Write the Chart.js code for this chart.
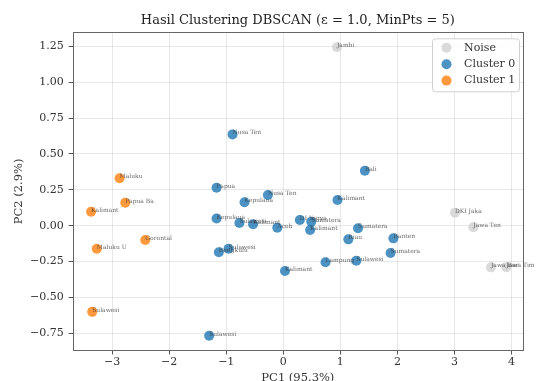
<!DOCTYPE html>
<html>
<head>
<meta charset="utf-8">
<script src="https://cdn.jsdelivr.net/npm/chart.js@4/dist/chart.umd.min.js"></script>
<style>
  html, body { margin: 0; padding: 0; background: #fff; }
  #wrap { width: 536px; height: 381px; }
</style>
</head>
<body>
<div id="wrap"><canvas id="myChart"></canvas></div>
<script>
// data
var noiseNames = ["Jambi", "DKI Jaka", "Jawa Ten", "Jawa Bar", "Jawa Tim"];
var noiseX = [0.94, 3.01, 3.33, 3.64, 3.91];
var noiseY = [1.243, 0.09, -0.011, -0.29, -0.29];

var c0Names = ["Nusa Ten", "Papua", "Kepulaua", "Nusa Ten", "Kepulaua", "Sulawesi", "Kalimant", "Aceh",
  "DI Yogya", "Sumatera", "Kalimant", "Bengkulu", "Sulawesi", "Kalimant", "Bali", "Kalimant",
  "Sumatera", "Riau", "Banten", "Sumatera", "Lampung", "Sulawesi", "Sulawesi"];
var c0X = [-0.89, -1.17, -0.68, -0.27, -1.17, -0.77, -0.53, -0.105,
  0.29, 0.49, 0.47, -1.13, -0.96, 0.03, 1.43, 0.95,
  1.31, 1.14, 1.93, 1.88, 0.74, 1.28, -1.30];
var c0Y = [0.636, 0.265, 0.163, 0.214, 0.05, 0.019, 0.01, -0.014,
  0.04, 0.028, -0.03, -0.185, -0.16, -0.315, 0.383, 0.179,
  -0.018, -0.095, -0.088, -0.19, -0.255, -0.244, -0.766];

var c1Names = ["Maluku", "Papua Ba", "Kalimant", "Gorontal", "Maluku U", "Sulawesi"];
var c1X = [-2.87, -2.77, -3.37, -2.42, -3.27, -3.35];
var c1Y = [0.33, 0.16, 0.097, -0.10, -0.16, -0.60];

var xTicks = [-3, -2, -1, 0, 1, 2, 3, 4];
var yTicks = [-0.75, -0.5, -0.25, 0, 0.25, 0.5, 0.75, 1, 1.25];

function pts(xs, ys, names) {
  return xs.map(function (x, i) { return { x: x, y: ys[i], name: names[i] }; });
}

var serif = "'DejaVu Serif', 'Liberation Serif', serif";

// names next to points, left edge and baseline on the point
var pointNames = {
  id: "pointNames",
  afterDatasetsDraw: function (chart) {
    var ctx = chart.ctx;
    ctx.save();
    ctx.font = "6px " + serif;
    ctx.fillStyle = "rgba(50,50,50,0.75)";
    ctx.textAlign = "left";
    ctx.textBaseline = "alphabetic";
    chart.data.datasets.forEach(function (ds, i) {
      var meta = chart.getDatasetMeta(i);
      meta.data.forEach(function (el, j) {
        ctx.fillText(ds.data[j].name, el.x, el.y);
      });
    });
    ctx.restore();
  },
};

// frame round the axes and legend inside the upper right corner
var frameLegend = {
  id: "frameLegend",
  afterDraw: function (chart) {
    var ctx = chart.ctx;
    var a = chart.chartArea;
    ctx.save();
    ctx.strokeStyle = "#666";
    ctx.lineWidth = 1;
    ctx.strokeRect(Math.round(a.left) + 0.5, Math.round(a.top) + 0.5,
      Math.round(a.right - a.left), Math.round(a.bottom - a.top));

    var w = 87, h = 53;
    var lx = a.right - 4 - w, ly = a.top + 6;
    ctx.fillStyle = "rgba(255,255,255,0.85)";
    ctx.strokeStyle = "#d0d0d0";
    ctx.beginPath();
    ctx.roundRect(lx + 0.5, ly + 0.5, w, h, 3);
    ctx.fill();
    ctx.stroke();

    ctx.font = "11px " + serif;
    ctx.textAlign = "left";
    ctx.textBaseline = "middle";
    chart.data.datasets.forEach(function (ds, i) {
      var cy = ly + 9.5 + i * 16.4;
      ctx.fillStyle = ds.backgroundColor;
      ctx.beginPath();
      ctx.arc(lx + 14.5, cy, 5, 0, Math.PI * 2);
      ctx.fill();
      ctx.fillStyle = "#333";
      ctx.fillText(ds.label, lx + 32, cy);
    });
    ctx.restore();
  },
};

var ctx = document.getElementById("myChart").getContext("2d");
var chart = new Chart(ctx, {
  type: "scatter",
  data: {
    datasets: [
      {
        label: "Noise",
        data: pts(noiseX, noiseY, noiseNames),
        backgroundColor: "rgba(211,211,211,0.85)",
        borderWidth: 0,
        pointRadius: 5,
      },
      {
        label: "Cluster 0",
        data: pts(c0X, c0Y, c0Names),
        backgroundColor: "rgba(31,119,180,0.8)",
        borderWidth: 0,
        pointRadius: 5,
      },
      {
        label: "Cluster 1",
        data: pts(c1X, c1Y, c1Names),
        backgroundColor: "rgba(255,127,14,0.8)",
        borderWidth: 0,
        pointRadius: 5,
      },
    ],
  },
  options: {
    responsive: true,
    maintainAspectRatio: false,
    animation: false,
    layout: { padding: { left: 0, right: 13, top: 0, bottom: 0 } },
    plugins: {
      legend: { display: false },
      tooltip: { enabled: false },
      title: {
        display: true,
        fullSize: false,
        text: "Hasil Clustering DBSCAN (\u03b5 = 1.0, MinPts = 5)",
        color: "#222",
        font: { family: serif, size: 13, weight: "normal", lineHeight: 1.2 },
        padding: { top: 13, bottom: 3.7 },
      },
    },
    scales: {
      x: {
        type: "linear",
        min: -3.692,
        max: 4.202,
        afterFit: function (s) { s.height = 30.5; },
        afterBuildTicks: function (s) { s.ticks = xTicks.map(function (v) { return { value: v }; }); },
        grid: { color: "rgba(0,0,0,0.09)", tickColor: "#555", tickLength: 4 },
        border: { display: false },
        ticks: {
          color: "#333",
          padding: 1,
          font: { family: serif, size: 11 },
          callback: function (v) { return String(v).replace("-", "\u2212"); },
        },
        title: {
          display: true,
          text: "PC1 (95.3%)",
          color: "#333",
          font: { family: serif, size: 11.5, lineHeight: 0.8 },
          padding: { top: 0, bottom: -1.5 },
        },
      },
      y: {
        type: "linear",
        min: -0.869,
        max: 1.347,
        afterFit: function (s) { s.width = 72.7; },
        afterBuildTicks: function (s) { s.ticks = yTicks.map(function (v) { return { value: v }; }); },
        grid: { color: "rgba(0,0,0,0.09)", tickColor: "#555", tickLength: 4 },
        border: { display: false },
        ticks: {
          color: "#333",
          padding: 5,
          font: { family: serif, size: 11 },
          callback: function (v) { return v.toFixed(2).replace("-", "\u2212"); },
        },
        title: {
          display: true,
          text: "PC2 (2.9%)",
          color: "#333",
          font: { family: serif, size: 11.5, lineHeight: 1.2 },
          padding: { top: 12, bottom: 0 },
        },
      },
    },
  },
  plugins: [pointNames, frameLegend],
});
</script>
</body>
</html>
